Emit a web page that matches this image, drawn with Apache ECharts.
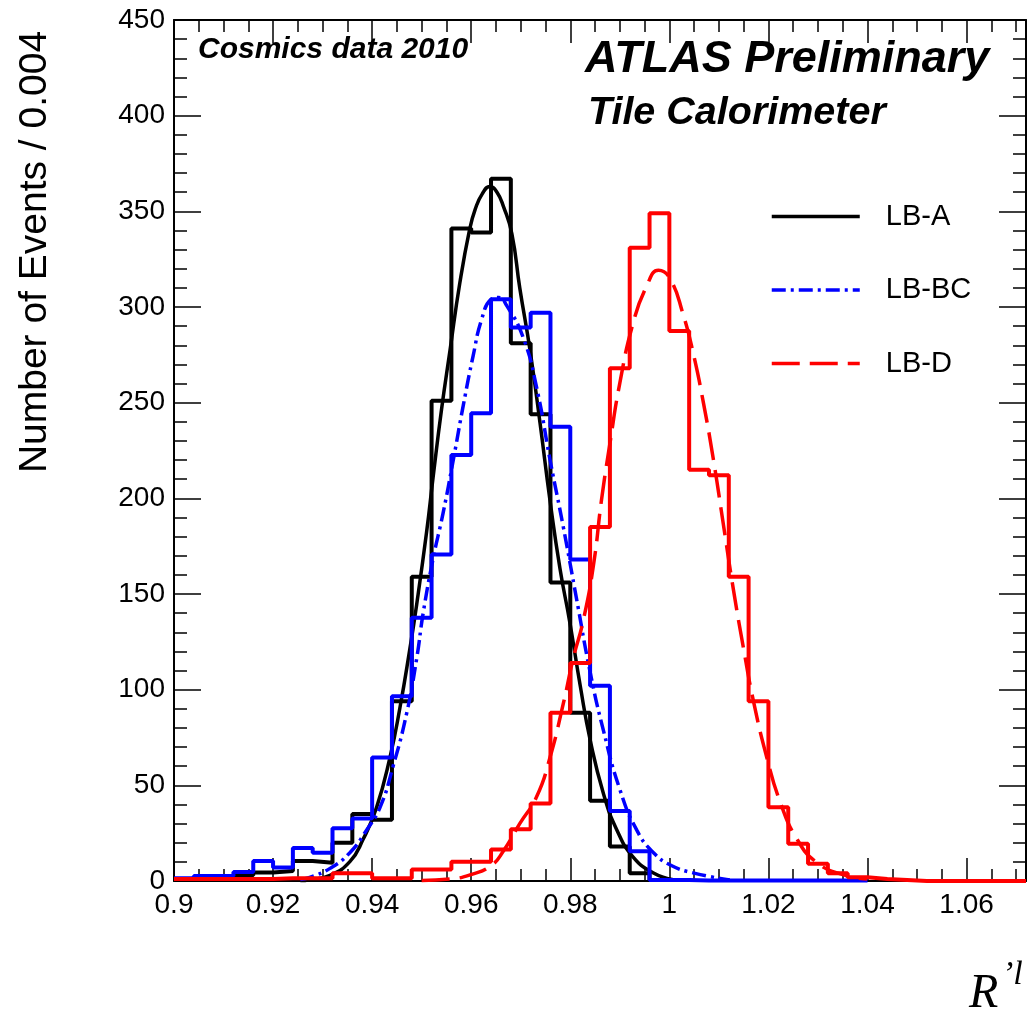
<!DOCTYPE html>
<html>
<head>
<meta charset="utf-8">
<script src="https://cdn.jsdelivr.net/npm/echarts@6/dist/echarts.min.js"></script>
<style>
html, body { margin: 0; padding: 0; background: #fff; }
#main { width: 1031px; height: 1012px; }
</style>
</head>
<body>
<div id="main"></div>
<script>
// 分箱
const binLow = 0.9;
const binWidth = 0.004;

// 每个箱的事件数
const histA = [0.5, 1, 1.5, 3, 4.4, 5.2, 10.4, 9.6, 20, 35, 32, 94, 159, 251, 341, 339, 367, 281, 244, 156, 88, 42, 18, 4, 0.5];
const histBC = [1.5, 2.6, 2.6, 4.7, 10.4, 7, 17.3, 14.7, 27.6, 32.7, 64.5, 96.5, 137.6, 170.6, 222.7, 244.5, 304, 289.3, 297, 237.4, 168, 102, 36.6, 15.5, 0.5, 0.5, 0.3, 0.3, 0.3, 0.3, 0.3, 0.3, 0.3, 0.3, 0.3];
const histD = [1, 1, 1, 1, 1, 1.5, 1.5, 1.5, 4, 4, 1.5, 1.5, 6, 6, 10, 10, 16.5, 27, 40.5, 88, 114, 185, 268, 331, 349, 287.5, 215, 212, 159, 94, 38.5, 19.5, 9, 4, 2, 1, 0.5, 0, 0, 0, 0, 0, 0];

// 拟合曲线上的点 [R, N]
const fitA = [[0.9255, 0.2], [0.9274, 0.7], [0.9315, 3.0], [0.9355, 10.1], [0.9382, 21.9], [0.9409, 38.5], [0.9436, 64.6], [0.9456, 90.4], [0.9476, 121.1], [0.9490, 144.7], [0.9510, 182.5], [0.9523, 210.9], [0.9540, 246.3], [0.9557, 277], [0.9577, 312.5], [0.9597, 340.8], [0.9608, 351], [0.9622, 359], [0.9638, 363], [0.9652, 360], [0.9665, 352.6], [0.9682, 338.4], [0.9698, 310], [0.9719, 277], [0.9739, 239.2], [0.9759, 199], [0.9779, 163.6], [0.9799, 135.3], [0.9820, 102.2], [0.9840, 73.9], [0.9867, 45.6], [0.9894, 26.7], [0.9927, 12.5], [0.9968, 4.2], [1.0008, 0.7]];
const fitBC = [[0.9255, 0.8], [0.9274, 1.9], [0.9315, 6.6], [0.9355, 14.8], [0.9389, 26.7], [0.9416, 38.5], [0.9442, 59.7], [0.9470, 88], [0.9490, 116.4], [0.9503, 140], [0.9523, 168.4], [0.9543, 192], [0.9564, 220.3], [0.9584, 248.6], [0.9604, 274.6], [0.9621, 293.5], [0.9640, 304], [0.9655, 305], [0.9672, 300.6], [0.9705, 284], [0.9732, 258], [0.9759, 220.3], [0.9786, 184.9], [0.9813, 147], [0.9840, 109.3], [0.9867, 78.6], [0.9900, 47.9], [0.9934, 26.7], [0.9968, 14.8], [1.0005, 8], [1.0052, 4], [1.0122, 0.5]];
const fitD = [[0.9500, 0.3], [0.9557, 1], [0.9601, 3.5], [0.9640, 8], [0.9665, 15.7], [0.9698, 30], [0.9732, 44], [0.9759, 64.5], [0.9786, 92.8], [0.9806, 116.4], [0.9826, 135.9], [0.9847, 165.4], [0.9863, 199.1], [0.9880, 228.6], [0.9900, 260.2], [0.9927, 291.8], [0.9954, 310.8], [0.9978, 319.2], [1.0001, 315], [1.0028, 296], [1.0049, 275], [1.0069, 249.6], [1.0089, 220.2], [1.0109, 186.5], [1.0129, 152.8], [1.0150, 121.2], [1.0170, 93.8], [1.0197, 64.3], [1.0224, 41.1], [1.0257, 22.2], [1.0298, 9.6], [1.0352, 3.2], [1.0399, 1.1]];

// 坐标轴
const xMin = 0.9, xMax = 1.072, xStep = 0.02;
const yMin = 0, yMax = 450, yStep = 50;

// 直方图转成阶梯线的点
function histPoints(vals) {
  const pts = vals.map((v, i) => [binLow + i * binWidth, v]);
  pts.push([binLow + vals.length * binWidth, vals[vals.length - 1]]);
  return pts;
}

const font = 'Liberation Sans, Arial, Helvetica, sans-serif';
const serif = 'Liberation Serif, Times New Roman, serif';

var chart = echarts.init(document.getElementById('main'));

function xAxisDef(pos, labels) {
  return {
    type: 'value', position: pos, min: xMin, max: xMax, interval: xStep,
    axisLine: { show: true, onZero: false, lineStyle: { color: '#000', width: 2 } },
    axisTick: { show: true, inside: true, length: 23, lineStyle: { color: '#000', width: 1.5 } },
    minorTick: { show: true, splitNumber: 4, length: 12, lineStyle: { color: '#000', width: 1.5 } },
    splitLine: { show: false },
    axisLabel: {
      show: labels, margin: 10, fontSize: 28, color: '#000', fontFamily: font,
      showMaxLabel: false,
      formatter: v => String(Math.round(v * 1000) / 1000)
    }
  };
}

function yAxisDef(pos, labels) {
  return {
    type: 'value', position: pos, min: yMin, max: yMax, interval: yStep,
    axisLine: { show: true, onZero: false, lineStyle: { color: '#000', width: 2 } },
    axisTick: { show: true, inside: true, length: 27, lineStyle: { color: '#000', width: 1.5 } },
    minorTick: { show: true, splitNumber: 5, length: 13, lineStyle: { color: '#000', width: 1.5 } },
    splitLine: { show: false },
    axisLabel: { show: labels, margin: 9, fontSize: 28, color: '#000', fontFamily: font }
  };
}

function histSeries(name, vals, color) {
  return {
    name: name, type: 'line', step: 'end', data: histPoints(vals),
    symbol: 'none', clip: false, silent: true,
    lineStyle: { color: color, width: 4 }
  };
}

function fitSeries(name, pts, color, dash) {
  return {
    name: name, type: 'line', smooth: true, data: pts,
    symbol: 'none', clip: false,
    itemStyle: { color: color },
    lineStyle: { color: color, width: 3.5, type: dash }
  };
}

var option = {
  animation: false,
  backgroundColor: '#fff',
  grid: { left: 174, right: 5, top: 20, bottom: 131 },
  xAxis: [xAxisDef('bottom', true), xAxisDef('top', false)],
  yAxis: [yAxisDef('left', true), yAxisDef('right', false)],
  legend: {
    data: ['LB-A', 'LB-BC', 'LB-D'],
    orient: 'vertical', left: 765, top: 197,
    itemWidth: 88, itemHeight: 30, itemGap: 44.5,
    itemStyle: { opacity: 0 },
    lineStyle: { width: 3.5 },
    textStyle: { fontSize: 29, color: '#000', fontFamily: font, padding: [0, 0, 0, 21] }
  },
  series: [
    histSeries('LB-A hist', histA, '#000000'),
    fitSeries('LB-A', fitA, '#000000', 'solid'),
    histSeries('LB-BC hist', histBC, '#0000ff'),
    fitSeries('LB-BC', fitBC, '#0000ff', [14, 5, 3, 5]),
    histSeries('LB-D hist', histD, '#ff0000'),
    fitSeries('LB-D', fitD, '#ff0000', [28, 10])
  ],
  graphic: [
    { type: 'text', x: 198, y: 50, style: { text: 'Cosmics data 2010', fontSize: 30, fontWeight: 'bold', fontStyle: 'italic', fontFamily: font, fill: '#000', align: 'left', verticalAlign: 'middle' } },
    { type: 'text', x: 585, y: 60, style: { text: 'ATLAS Preliminary', fontSize: 45, fontWeight: 'bold', fontStyle: 'italic', fontFamily: font, fill: '#000', align: 'left', verticalAlign: 'middle' } },
    { type: 'text', x: 588, y: 113, style: { text: 'Tile Calorimeter', fontSize: 39.5, fontWeight: 'bold', fontStyle: 'italic', fontFamily: font, fill: '#000', align: 'left', verticalAlign: 'middle' } },
    { type: 'text', x: 35, y: 252, rotation: Math.PI / 2, style: { text: 'Number of Events / 0.004', fontSize: 39, fontFamily: font, fill: '#000', align: 'center', verticalAlign: 'middle' } },
    { type: 'text', x: 969, y: 1018, style: { text: 'R', fontSize: 48, fontStyle: 'italic', fontFamily: serif, fill: '#000', align: 'left', verticalAlign: 'bottom' } },
    { type: 'text', x: 1002, y: 992, style: { text: '’l', fontSize: 34, fontStyle: 'italic', fontFamily: serif, fill: '#000', align: 'left', verticalAlign: 'bottom' } }
  ]
};

chart.setOption(option);
</script>
</body>
</html>
